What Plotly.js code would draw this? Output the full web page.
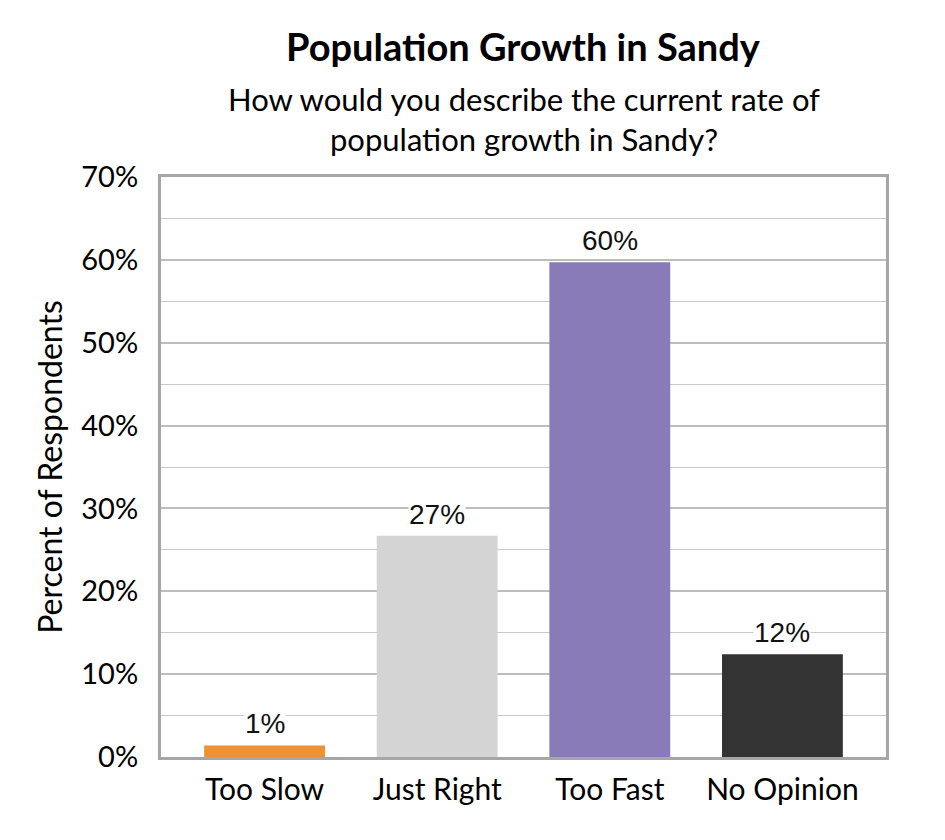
<!DOCTYPE html>
<html>
<head>
<meta charset="utf-8">
<script src="https://cdn.plot.ly/plotly-3.0.1.min.js"></script>
<style>
  body { margin: 0; background: #fff; }
  #plot { width: 945px; height: 840px; }
</style>
</head>
<body>
<div id="plot"></div>
<script>
// survey answers, percent of respondents
const categories = ['Too Slow', 'Just Right', 'Too Fast', 'No Opinion'];
const percents = [1.4, 26.7, 59.7, 12.4];
const labels = ['1%', '27%', '60%', '12%'];
const barColors = ['#EE9233', '#D4D4D4', '#887BB7', '#333333'];
const yTicks = [0, 10, 20, 30, 40, 50, 60, 70];

const mainFont = 'Lato, "Open Sans", sans-serif';

let trace = {
    x: categories,
    y: percents,
    type: 'bar',
    marker: { color: barColors },
    hoverinfo: 'none'
};

// value labels sit on a white box above each bar
let valueLabels = categories.map((c, i) => ({
    x: c,
    y: percents[i],
    xref: 'x',
    yref: 'y',
    text: labels[i],
    showarrow: false,
    yanchor: 'bottom',
    yshift: 5,
    bgcolor: '#ffffff',
    borderpad: 0,
    font: { family: '"Liberation Sans", Arial, sans-serif', size: 28, color: '#111' }
}));

let layout = {
    width: 945,
    height: 840,
    margin: { l: 161, r: 59, t: 177, b: 83 },
    paper_bgcolor: '#fff',
    plot_bgcolor: '#fff',
    showlegend: false,
    bargap: 0.3,
    font: { family: mainFont, color: '#000' },
    xaxis: {
        range: [-0.6, 3.6],
        showline: true,
        mirror: true,
        linecolor: '#a6a6a6',
        linewidth: 3,
        ticks: '',
        ticklabelstandoff: 4,
        tickfont: { size: 30, family: mainFont },
        fixedrange: true
    },
    yaxis: {
        range: [0, 70],
        tickvals: yTicks,
        ticktext: yTicks.map(v => v + '%'),
        showline: true,
        mirror: true,
        linecolor: '#a6a6a6',
        linewidth: 3,
        gridcolor: '#bdbdbd',
        gridwidth: 2,
        zeroline: false,
        ticks: '',
        ticklabelstandoff: 14,
        tickfont: { size: 29, family: mainFont },
        minor: { dtick: 5, showgrid: true, gridcolor: '#c8c8c8', gridwidth: 1 },
        title: { text: 'Percent of Respondents', font: { size: 32, family: mainFont }, standoff: 10 },
        fixedrange: true
    },
    annotations: [
        {
            text: '<b>Population Growth in Sandy</b>',
            xref: 'paper', yref: 'paper',
            x: 0.5, y: 1, yanchor: 'middle', yshift: 131,
            showarrow: false,
            font: { size: 38, family: mainFont }
        },
        {
            text: 'How would you describe the current rate of<br>population growth in Sandy?',
            xref: 'paper', yref: 'paper',
            x: 0.5, y: 1, yanchor: 'middle', yshift: 58,
            showarrow: false,
            font: { size: 31, family: mainFont }
        }
    ].concat(valueLabels)
};

Plotly.newPlot('plot', [trace], layout, { displayModeBar: false, staticPlot: true });
</script>
</body>
</html>
